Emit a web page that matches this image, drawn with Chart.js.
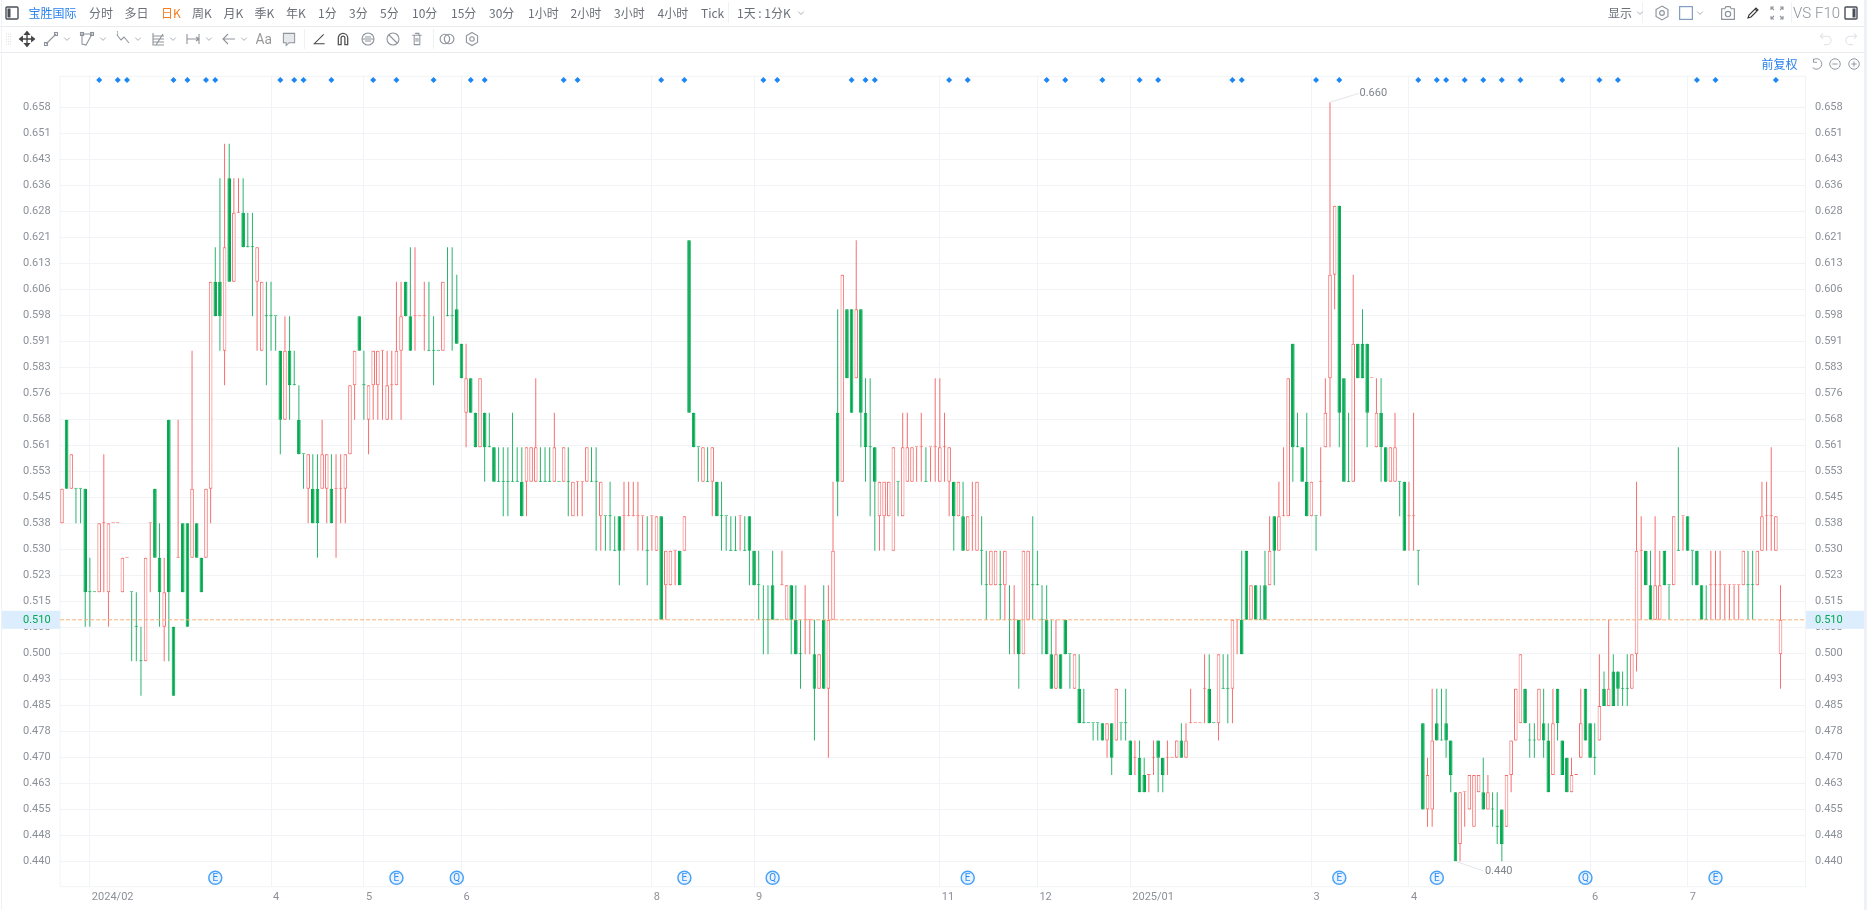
<!DOCTYPE html>
<html><head><meta charset="utf-8"><title>宝胜国际</title>
<script src="https://cdn.jsdelivr.net/npm/chart.js@4"></script>
<style>
html,body{margin:0;padding:0;background:#fff;width:1867px;height:910px;overflow:hidden;font-family:"Noto Sans CJK SC","Roboto",sans-serif}
#c{position:absolute;left:0;top:0;width:1867px;height:910px}
.t{position:absolute;font-size:12px;line-height:16px;color:#6a6f78;white-space:nowrap;transform:translateY(-50%)}
.i{position:absolute;transform:translate(-50%,-50%);display:block}
.hl{position:absolute;background:#e9ebef}
</style></head><body>
<canvas id="c" width="1867" height="910"></canvas>
<div id="ui"></div>
<script>
const opens=[
.538,.568,.548,.548,.548,.548,.518,.518,.518,.538,
.518,.538,.538,.518,.528,.518,.508,.498,.498,.538,
.548,.528,.508,.568,.508,.528,.538,.538,.528,.538,
.528,.528,.548,.608,.608,.588,.638,.608,.628,.628,
.618,.618,.608,.588,.598,.598,.598,.588,.568,.588,
.578,.568,.558,.548,.548,.548,.548,.548,.548,.548,
.548,.548,.558,.578,.598,.578,.568,.578,.578,.588,
.568,.578,.578,.588,.608,.598,.598,.598,.598,.588,
.588,.588,.588,.598,.598,.60,.59,.57,.58,.57,
.56,.57,.56,.56,.55,.55,.55,.55,.55,.55,
.55,.55,.55,.55,.55,.55,.55,.55,.55,.55,
.54,.55,.55,.55,.55,.55,.54,.54,.54,.53,
.54,.54,.54,.54,.54,.54,.53,.54,.53,.54,
.52,.52,.53,.53,.53,.62,.57,.56,.55,.55,
.55,.55,.54,.54,.53,.53,.54,.53,.54,.53,
.52,.51,.51,.52,.51,.52,.51,.52,.51,.50,
.51,.51,.50,.49,.51,.49,.51,.57,.55,.60,
.60,.58,.60,.57,.56,.56,.54,.54,.54,.53,
.55,.54,.55,.55,.56,.56,.55,.56,.56,.55,
.56,.55,.55,.54,.54,.53,.54,.53,.53,.52,
.52,.52,.52,.52,.51,.51,.51,.50,.51,.52,
.52,.51,.51,.50,.49,.50,.51,.50,.49,.49,
.48,.48,.48,.48,.48,.475,.48,.475,.48,.48,
.475,.47,.47,.465,.465,.47,.475,.47,.47,.47,
.47,.475,.47,.48,.48,.48,.49,.49,.48,.48,
.49,.49,.49,.51,.51,.53,.51,.52,.51,.52,
.52,.54,.53,.54,.54,.59,.56,.56,.55,.54,
.54,.55,.56,.58,.61,.63,.58,.55,.55,.59,
.59,.59,.58,.56,.57,.56,.55,.55,.55,.55,
.54,.54,.53,.48,.455,.455,.48,.475,.48,.475,
.46,.445,.46,.455,.45,.46,.46,.455,.455,.45,
.455,.45,.465,.475,.48,.49,.475,.475,.475,.48,
.475,.465,.49,.475,.47,.46,.465,.47,.49,.48,
.47,.475,.49,.485,.495,.495,.49,.49,.49,.50,
.53,.53,.52,.51,.51,.53,.52,.52,.53,.54,
.54,.53,.53,.52,.51,.52,.52,.52,.52,.52,
.52,.52,.52,.52,.52,.52,.53,.54,.54,.53,
.50];
const closes=[
.548,.548,.558,.548,.548,.518,.518,.518,.538,.538,
.538,.538,.538,.528,.528,.518,.508,.498,.528,.538,
.528,.518,.518,.518,.488,.528,.518,.508,.548,.528,
.518,.548,.608,.598,.598,.618,.608,.628,.628,.618,
.618,.618,.618,.608,.598,.598,.598,.568,.588,.578,
.578,.558,.558,.558,.538,.538,.558,.558,.538,.548,
.548,.558,.578,.588,.588,.578,.578,.588,.588,.588,
.578,.578,.588,.598,.598,.588,.598,.598,.598,.588,
.588,.588,.608,.598,.598,.59,.58,.58,.57,.56,
.58,.56,.56,.55,.55,.55,.55,.55,.55,.54,
.56,.56,.56,.55,.55,.55,.56,.55,.56,.55,
.55,.55,.55,.56,.55,.55,.55,.54,.54,.53,
.53,.54,.54,.54,.54,.54,.53,.54,.54,.51,
.53,.53,.53,.52,.54,.57,.56,.56,.56,.55,
.56,.54,.54,.54,.53,.53,.54,.53,.53,.52,
.52,.51,.51,.51,.51,.52,.52,.51,.50,.50,
.51,.51,.49,.50,.49,.51,.53,.55,.61,.58,
.57,.60,.57,.56,.56,.55,.55,.55,.55,.56,
.55,.56,.56,.56,.56,.56,.55,.56,.56,.56,
.56,.56,.54,.55,.53,.54,.54,.55,.53,.52,
.53,.53,.52,.53,.51,.51,.50,.53,.53,.52,
.52,.51,.50,.49,.50,.49,.50,.50,.50,.48,
.48,.48,.48,.48,.475,.48,.47,.49,.48,.48,
.465,.47,.46,.46,.465,.47,.47,.465,.47,.47,
.475,.47,.475,.48,.48,.48,.49,.48,.48,.50,
.49,.49,.51,.51,.50,.51,.52,.51,.51,.51,
.53,.53,.54,.54,.58,.56,.56,.55,.54,.55,
.54,.55,.57,.61,.63,.57,.55,.55,.59,.58,
.58,.57,.58,.57,.56,.55,.56,.56,.55,.53,
.54,.54,.53,.455,.465,.475,.475,.475,.475,.465,
.44,.46,.46,.465,.465,.465,.455,.46,.455,.45,
.445,.465,.475,.49,.50,.48,.475,.475,.49,.475,
.46,.48,.48,.465,.46,.465,.465,.48,.475,.47,
.47,.485,.485,.49,.485,.49,.49,.49,.50,.53,
.53,.52,.51,.52,.52,.52,.52,.54,.53,.54,
.53,.53,.52,.51,.51,.52,.52,.52,.52,.52,
.52,.52,.53,.52,.52,.53,.54,.54,.54,.54,
.51];
const highs=[
.548,.568,.558,.548,.548,.548,.528,.518,.538,.558,
.538,.538,.538,.528,.528,.518,.518,.508,.528,.538,
.548,.538,.528,.568,.508,.568,.538,.538,.588,.538,
.528,.548,.608,.618,.638,.648,.648,.638,.638,.638,
.628,.628,.618,.608,.608,.608,.598,.588,.598,.598,
.588,.578,.558,.558,.558,.558,.568,.558,.558,.558,
.558,.558,.578,.588,.598,.588,.578,.588,.588,.588,
.588,.588,.608,.608,.608,.618,.618,.598,.608,.608,
.598,.588,.608,.618,.618,.61,.59,.59,.58,.57,
.58,.57,.57,.56,.56,.56,.56,.57,.56,.56,
.56,.56,.58,.56,.56,.56,.57,.55,.56,.56,
.55,.55,.55,.56,.56,.56,.55,.54,.55,.54,
.54,.55,.55,.55,.55,.54,.54,.54,.54,.54,
.53,.53,.53,.53,.54,.62,.57,.56,.56,.56,
.56,.55,.55,.54,.54,.54,.54,.54,.54,.53,
.53,.52,.52,.53,.51,.53,.52,.52,.52,.51,
.52,.51,.51,.50,.52,.52,.55,.60,.61,.60,
.60,.62,.60,.58,.58,.56,.55,.55,.55,.56,
.55,.57,.57,.56,.56,.57,.56,.56,.58,.58,
.57,.56,.55,.55,.55,.54,.55,.55,.54,.53,
.53,.53,.53,.53,.52,.52,.51,.53,.53,.54,
.53,.52,.52,.51,.51,.50,.51,.50,.50,.50,
.49,.48,.48,.48,.48,.48,.48,.49,.48,.49,
.475,.475,.475,.47,.465,.475,.475,.47,.475,.47,
.475,.48,.48,.49,.48,.48,.50,.50,.48,.50,
.50,.50,.51,.51,.53,.53,.52,.52,.52,.53,
.54,.54,.55,.56,.58,.59,.57,.56,.57,.55,
.54,.56,.58,.66,.63,.63,.58,.57,.61,.59,
.60,.59,.58,.58,.58,.56,.56,.57,.55,.55,
.55,.57,.53,.48,.47,.49,.49,.49,.49,.475,
.46,.46,.46,.465,.465,.465,.47,.465,.46,.46,
.455,.465,.475,.49,.50,.49,.48,.48,.49,.49,
.48,.49,.49,.475,.47,.47,.465,.49,.49,.48,
.48,.50,.495,.51,.50,.495,.495,.50,.50,.55,
.54,.53,.53,.54,.53,.53,.52,.54,.56,.54,
.54,.53,.53,.52,.52,.53,.53,.53,.52,.52,
.52,.52,.53,.53,.53,.53,.55,.55,.56,.54,
.52];
const lows=[
.538,.548,.548,.538,.538,.508,.508,.518,.518,.518,
.508,.538,.538,.518,.528,.498,.498,.488,.498,.518,
.528,.508,.498,.498,.488,.528,.518,.508,.528,.528,
.518,.528,.538,.598,.588,.578,.608,.608,.628,.618,
.618,.598,.588,.588,.578,.588,.588,.558,.568,.568,
.578,.558,.548,.538,.538,.528,.548,.538,.538,.528,
.538,.538,.558,.568,.588,.568,.558,.568,.568,.568,
.568,.568,.578,.568,.598,.588,.588,.598,.588,.588,
.578,.588,.588,.598,.588,.59,.58,.56,.57,.56,
.56,.55,.56,.55,.55,.54,.54,.55,.55,.54,
.54,.55,.55,.55,.55,.55,.55,.55,.55,.54,
.54,.54,.54,.55,.55,.53,.53,.53,.53,.53,
.52,.53,.54,.54,.53,.53,.52,.53,.53,.51,
.51,.52,.52,.52,.53,.57,.56,.55,.55,.55,
.54,.54,.53,.53,.53,.53,.53,.53,.52,.52,
.51,.50,.50,.51,.51,.52,.51,.50,.50,.49,
.50,.50,.475,.49,.49,.47,.51,.54,.55,.58,
.57,.58,.56,.55,.54,.53,.53,.53,.54,.53,
.54,.54,.55,.55,.55,.55,.55,.55,.55,.55,
.55,.54,.53,.54,.53,.53,.53,.53,.52,.51,
.52,.52,.51,.51,.50,.50,.49,.50,.51,.51,
.52,.50,.50,.49,.49,.49,.50,.49,.49,.48,
.48,.48,.475,.475,.475,.47,.465,.475,.475,.475,
.465,.465,.46,.46,.46,.465,.46,.46,.465,.47,
.47,.47,.47,.48,.48,.48,.48,.48,.48,.475,
.49,.48,.48,.50,.50,.51,.51,.51,.51,.51,
.52,.52,.53,.54,.54,.55,.56,.55,.54,.54,
.53,.54,.56,.56,.60,.56,.55,.55,.55,.58,
.58,.56,.58,.56,.55,.55,.55,.55,.54,.53,
.53,.53,.52,.455,.45,.45,.475,.475,.47,.46,
.44,.44,.45,.455,.45,.46,.455,.455,.45,.445,
.44,.45,.46,.475,.48,.48,.47,.47,.475,.47,
.46,.465,.475,.465,.46,.46,.465,.47,.475,.47,
.465,.475,.485,.485,.485,.485,.485,.485,.49,.495,
.51,.52,.51,.51,.51,.52,.51,.52,.53,.53,
.53,.52,.52,.51,.51,.51,.51,.51,.51,.51,
.51,.51,.52,.51,.51,.52,.53,.53,.53,.53,
.49];
const flatRedBars=[205];
const monthBars=[6,45,65,86,127,149,189,210,230,269,290,329,350];
const monthLabels=['2024/02','4','5','6','8','9','11','12','2025/01','3','4','6','7'];
const yTicks=[.44,.44753,.45507,.4626,.47013,.47767,.4852,.49273,.50026,.5078,.51533,.52286,.5304,.53793,.54546,.553,.56053,.56806,.5756,.58313,.59066,.5982,.60573,.61326,.6208,.62833,.63586,.6434,.65093,.65846];
const newsBars=[8,12,14,24,27,31,33,47,50,52,58,67,72,80,88,91,108,111,129,134,151,154,170,173,175,191,195,212,216,224,232,236,252,254,270,275,292,296,298,302,306,310,314,323,331,335,352,356,369];
const newsLevel=.6665;
const eventBars=[33,72,85,134,153,195,275,296,328,356];
const eventLetters=['E','E','Q','E','Q','E','E','E','Q','E'];
const eventLevel=.4352;
const lastPrice=.51, peakHigh=.66, peakHighBar=273, peakLow=.44, peakLowBar=300;
const xMin=-.41, xMax=375.4, yMin=.43264, yMax=.66754;

const RED='#f66f6f', GREEN='#00a94f', WICKG='#29b46c', WHITE='#ffffff';
const isRed=[];
opens.forEach((o,i)=>{const c=closes[i];
  if(c>o) isRed[i]=true; else if(c<o) isRed[i]=false;
  else if(flatRedBars.includes(i)) isRed[i]=true;
  else if(i===0) isRed[i]=true;
  else if(c>closes[i-1]) isRed[i]=true;
  else if(c<closes[i-1]) isRed[i]=false;
  else isRed[i]=isRed[i-1];
});
const gridC='#f1f3f6', labelC='#8b9099', font={family:'Roboto, sans-serif',size:11};

const overlay={id:'overlay',
 beforeDatasetsDraw(ch){const {ctx,chartArea:a}=ch;ctx.save();ctx.strokeStyle=gridC;ctx.lineWidth=1;
   ctx.strokeRect(a.left,a.top,a.right-a.left,a.bottom-a.top);ctx.restore();},
 afterDatasetsDraw(ch){const {ctx,chartArea:a,scales:{x,y}}=ch;ctx.save();
   const yp=y.getPixelForValue(lastPrice);
   ctx.strokeStyle='#f7b07a';ctx.setLineDash([4,2]);ctx.lineWidth=1;ctx.beginPath();ctx.moveTo(a.left,yp);ctx.lineTo(a.right,yp);ctx.stroke();ctx.setLineDash([]);
   ctx.fillStyle='#dcedfd';ctx.fillRect(2,yp-9,a.left-2,18);ctx.fillRect(a.right+.5,yp-9,1864-a.right,18);
   ctx.font='11px Roboto, sans-serif';ctx.fillStyle='#00a94f';ctx.textBaseline='middle';
   ctx.textAlign='right';ctx.fillText(lastPrice.toFixed(3),a.left-9.5,yp);
   ctx.textAlign='left';ctx.fillText(lastPrice.toFixed(3),a.right+9.5,yp);
   ctx.textAlign='center';ctx.fillStyle='#2e8cf0';ctx.font='10px Roboto, sans-serif';
   eventBars.forEach((b,i)=>ctx.fillText(eventLetters[i],x.getPixelForValue(b),y.getPixelForValue(eventLevel)+.5));
   ctx.strokeStyle='#e3e5e9';ctx.fillStyle='#7f848d';ctx.font='11px Roboto, sans-serif';ctx.textAlign='left';
   const hx=x.getPixelForValue(peakHighBar),hy=y.getPixelForValue(peakHigh);
   ctx.beginPath();ctx.moveTo(hx,hy);ctx.lineTo(hx+29,hy-9);ctx.stroke();ctx.fillText(peakHigh.toFixed(3),hx+29.5,hy-9.5);
   const lx=x.getPixelForValue(peakLowBar),ly=y.getPixelForValue(peakLow);
   ctx.beginPath();ctx.moveTo(lx,ly);ctx.lineTo(lx+28,ly+9.5);ctx.stroke();ctx.fillText(peakLow.toFixed(3),lx+29.5,ly+10);
   ctx.restore();}
};
new Chart(document.getElementById('c'),{
 type:'bar',
 plugins:[overlay],
 data:{datasets:[
  {type:'scatter',data:newsBars.map(b=>({x:b,y:newsLevel})),pointStyle:'rectRot',pointRadius:3,backgroundColor:'#1b86f5',borderWidth:0,order:0},
  {type:'scatter',data:eventBars.map(b=>({x:b,y:eventLevel})),pointStyle:'circle',pointRadius:6.5,backgroundColor:'#eaf4ff',borderColor:'#4aa3f8',borderWidth:1.5,order:0},
  {data:opens.map((o,i)=>({x:i,y:[o,closes[i]]})),barThickness:3.6,minBarLength:1,grouped:false,
   backgroundColor:isRed.map((r,i)=>r?(closes[i]>opens[i]?WHITE:RED):GREEN),
   borderColor:isRed.map(r=>r?RED:GREEN),borderWidth:1,borderSkipped:false,inflateAmount:0,order:1},
  {data:opens.map((o,i)=>({x:i,y:[lows[i],highs[i]]})),barThickness:1,grouped:false,
   backgroundColor:isRed.map(r=>r?RED:WICKG),borderWidth:0,inflateAmount:0,order:2}
 ]},
 options:{responsive:false,animation:false,devicePixelRatio:1,
  layout:{padding:{top:76.3,left:0,right:0,bottom:0}},
  plugins:{legend:{display:false},tooltip:{enabled:false},title:{display:false}},
  scales:{
   x:{type:'linear',min:xMin,max:xMax,offset:false,
      afterBuildTicks:s=>{s.ticks=monthBars.map(v=>({value:v}))},
      afterFit:s=>{s.height=23.3},
      grid:{color:gridC,drawTicks:false,tickLength:0,offset:false},border:{display:false},
      ticks:{autoSkip:false,maxRotation:0,align:'start',labelOffset:2,padding:4,color:labelC,font,
        callback:v=>monthLabels[monthBars.indexOf(v)]}},
   y:{type:'linear',position:'left',min:yMin,max:yMax,
      afterBuildTicks:s=>{s.ticks=yTicks.map(v=>({value:v}))},
      afterFit:s=>{s.width=60.1},
      grid:{color:gridC,drawTicks:false,tickLength:0},border:{display:false},
      ticks:{autoSkip:false,padding:9.5,color:labelC,font,callback:v=>v.toFixed(3)}},
   y2:{type:'linear',position:'right',display:true,min:yMin,max:yMax,
      afterBuildTicks:s=>{s.ticks=yTicks.map(v=>({value:v}))},
      afterFit:s=>{s.width=61.4},
      grid:{display:false,drawTicks:false,tickLength:0},border:{display:false},
      ticks:{autoSkip:false,padding:9.5,color:labelC,font,callback:v=>v.toFixed(3)}}
  }}
});

/* toolbar */
const ui=document.getElementById('ui');
const topLabels=[['宝胜国际',28.5,'#2a82ee'],['分时',89],['多日',124.5],['日K',161,'#f57c1f'],['周K',192],['月K',223.4],['季K',254.6],['年K',286],['1分',318],['3分',349],['5分',380],['10分',412],['15分',451],['30分',489],['1小时',528],['2小时',570.6],['3小时',614],['4小时',657.6],['Tick',701],['1天 : 1分K',737],['显示',1608]];
topLabels.forEach(([t,x,c])=>{const d=document.createElement('div');d.className='t';d.textContent=t;d.style.left=x+'px';d.style.top='12.5px';if(c)d.style.color=c;ui.appendChild(d)});
[['前复权',1761.6,64,'#2a82ee'],['VS',1793,12.5,'#8b9099',15],['F10',1815,12.5,'#8b9099',15]].forEach(([t,x,y,c,s])=>{const d=document.createElement('div');d.className='t';d.textContent=t;d.style.left=x+'px';d.style.top=y+'px';d.style.color=c;if(s){d.style.fontSize=s+'px';d.style.fontFamily='Roboto, sans-serif';d.style.fontWeight=300}ui.appendChild(d)});
[[0,25.5,1867,1],[0,51.5,1867,1]].forEach(([x,y,w,h])=>{const d=document.createElement('div');d.className='hl';d.style.cssText+=`left:${x}px;top:${y}px;width:${w}px;height:${h}px`;ui.appendChild(d)});
[[1,0,1,910],[1864,0,3,910],[728,2,1,21],[1642,2,1,21],[1791,2,1,21],[303.5,29,1,20],[432.5,29,1,20]].forEach(([x,y,w,h])=>{const d=document.createElement('div');d.className='hl';d.style.cssText+=`left:${x}px;top:${y}px;width:${w}px;height:${h}px;background:#eef1f5`;ui.appendChild(d)});
const P={
 chev:'<path d="M4 6l4 4 4-4"/>',
 panel:'<rect x="2" y="2" width="12" height="12" rx="1" stroke-width="1.4"/><rect x="3.5" y="3.5" width="3" height="9" fill="#4a4f57" stroke="none"/>',
 panelR:'<rect x="2" y="2" width="12" height="12" rx="1" stroke-width="1.4"/><rect x="9.5" y="3.5" width="3" height="9" fill="#4a4f57" stroke="none"/>',
 move:'<path d="M8 1v14M1 8h14M8 1L6 3.5h4zM8 15l-2-2.5h4zM1 8l2.5-2v4zM15 8l-2.5-2v4z" stroke-width="1.3"/>',
 line:'<path d="M3 13L13 3"/><rect x="1.5" y="11.5" width="3" height="3"/><rect x="11.5" y="1.5" width="3" height="3"/>',
 poly:'<path d="M3 3l10 0-6 11-4-1z"/><rect x="1.5" y="1.5" width="3" height="3"/><rect x="11.5" y="1.5" width="3" height="3"/>',
 wave:'<path d="M2 4l4 5 3-3 5 6"/><text x="1" y="4" font-size="5" stroke="none" fill="#777">1</text>',
 chart:'<path d="M3 2v12h11M3 8h11M3 5h11M3 11h11M6 14l7-11"/>',
 range:'<path d="M2 3v10M14 3v10M2 8h12M11 6l3 2-3 2"/>',
 arrow:'<path d="M14 8H2M7 3L2 8l5 5"/>',
 comment:'<path d="M2 2h12v10H8l-3 3v-3H2z" fill="#e6e8ec"/>',
 angle:'<path d="M13 3L3 13h11"/>',
 magnet:'<path d="M3 14V7a5 5 0 0 1 10 0v7h-3V7a2 2 0 0 0-4 0v7z" stroke-width="1.4"/>',
 eye:'<circle cx="8" cy="8" r="6"/><path d="M2 8h12M5 6h6M5 10h6"/>',
 ban:'<circle cx="8" cy="8" r="6"/><path d="M4 4l8 8"/>',
 trash:'<path d="M3 4h10M5 4v10h6V4M6 2h4v2M7 7v4M9 7v4"/>',
 link:'<circle cx="6" cy="8" r="4.5"/><circle cx="10" cy="8" r="4.5"/>',
 gear:'<path d="M8 1.5l5.6 3.2v6.6L8 14.5l-5.6-3.2V4.7z"/><circle cx="8" cy="8" r="2.2"/>',
 square:'<rect x="2" y="2" width="12" height="12"/>',
 camera:'<path d="M2 4h3l1-2h4l1 2h3v10H2z"/><circle cx="8" cy="9" r="2.5"/>',
 pen:'<path d="M3 13l1-3 7-7 2 2-7 7zM10 4l2 2" stroke="#333"/>',
 full:'<path d="M2 5V2h3M11 2h3v3M2 11v3h3M14 11v3h-3M2 2l3 3M14 2l-3 3M2 14l3-3M14 14l-3-3"/>',
 undo:'<path d="M5 2L2 5l3 3M2 5h7a4 4 0 0 1 0 9H6"/>',
 redo:'<path d="M11 2l3 3-3 3M14 5H7a4 4 0 0 0 0 9h3"/>',
 reset:'<path d="M4 2v4h4M4 3a6 6 0 1 1-1 9"/>',
 minus:'<circle cx="8" cy="8" r="6"/><path d="M5 8h6"/>',
 plus:'<circle cx="8" cy="8" r="6"/><path d="M5 8h6M8 5v6"/>',
 grip:'<path d="M5 3h6M5 5.5h6M5 8h6M5 10.5h6M5 13h6" stroke-dasharray="1 1"/>',
 aa:'<text x="0" y="13" font-size="13" stroke="none" fill="#999" font-family="Roboto">Aa</text>'
};
const icons=[['panel',12,12.5,16,'#4a4f57'],['chev',801,12.5,11],['chev',1640,12.5,11],['gear',1661.6,12.5,17],['square',1686,12.5,17,'#7f9bc0'],['chev',1700,12.5,11],['camera',1728,12.5,17],['pen',1753,12.5,16,'#333'],['full',1777,12.5,16],['panelR',1851,12.5,16,'#4a4f57'],
 ['undo',1825.6,39,15,'#dfe2e6'],['redo',1851,39,15,'#dfe2e6'],['reset',1817,64,14],['minus',1835,64,14],['plus',1854,64,14],
 ['grip',9,39,16,'#ddd'],['move',26.5,39,17,'#444'],['line',51,39,16],['chev',67,39,11],['poly',87,39,16],['chev',103,39,11],['wave',122.6,39,16],['chev',137.6,39,11],['chart',157.8,39,16],['chev',173,39,11],['range',193,39,16],['chev',209,39,11],['arrow',228.5,39,16],['chev',244,39,11],['aa',263.7,39,17],['comment',288.6,39,15],['angle',318.7,39,15,'#444'],['magnet',343,39,15,'#555'],['eye',367.7,39,16],['ban',392.6,39,16],['trash',417,39,15],['link',447,39,17],['gear',471.7,39,16]];
icons.forEach(([n,x,y,s,c])=>{const w=document.createElement('div');
 w.innerHTML=`<svg class="i" style="left:${x}px;top:${y}px" width="${s}" height="${s}" viewBox="0 0 16 16" fill="none" stroke="${c||'#8f949c'}" stroke-width="1.1">${P[n]}</svg>`;
 ui.appendChild(w.firstChild)});
</script>
</body></html>
